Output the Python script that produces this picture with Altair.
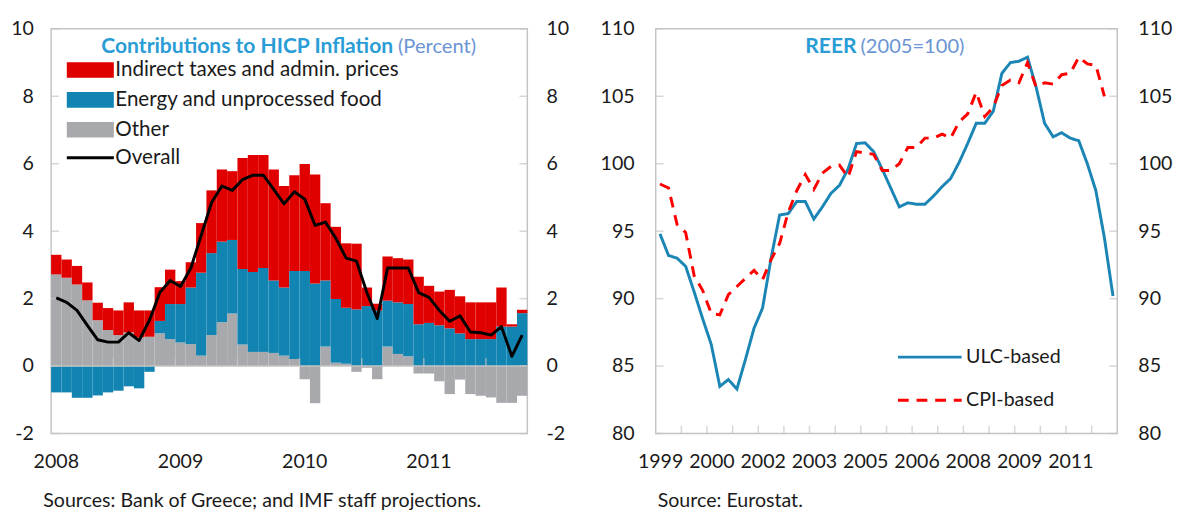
import altair as alt
import pandas as pd

FONT = "Lato"
TXT = "#1a1a1a"
RED = "#e10000"
BLUE = "#1284b1"
GRAY = "#a7a9ac"
FRAME = "#c4c4c4"
TITLE_BLUE = "#2a9dd6"
TITLE_LIGHT = "#6a94d4"
ULC_BLUE = "#1b86b5"
CPI_RED = "#ff0000"
HYPHEN_LABEL = "datum.value < 0 ? '-' + format(abs(datum.value), 'd') : format(datum.value, 'd')"

# ---------------- Left panel: contributions to HICP inflation (monthly, Jan 2008 - Oct 2011)
months = pd.period_range("2008-01", periods=46, freq="M").astype(str).tolist()
other = [2.72, 2.62, 2.42, 1.95, 1.36, 1.07, 0.92, 1.00, 0.85, 0.87,
         0.97, 0.80, 0.70, 0.65, 0.31, 0.92, 1.30, 1.56, 0.64, 0.42,
         0.42, 0.39, 0.31, 0.21, -0.39, -1.10, 0.58, 0.10, 0.07, -0.17,
         -0.05, -0.39, 0.58, 0.36, 0.29, -0.22, -0.22, -0.45, -0.83, -0.40,
         -0.83, -0.88, -0.93, -1.09, -1.09, -0.88]
energy = [-0.78, -0.78, -0.94, -0.94, -0.87, -0.78, -0.73, -0.60, -0.66, -0.17,
          0.37, 1.04, 1.14, 1.68, 2.46, 2.43, 2.39, 2.18, 2.24, 2.37,
          2.49, 2.15, 2.02, 2.61, 2.82, 2.45, 1.96, 1.89, 1.66, 1.68,
          1.78, 1.65, 1.36, 1.53, 1.55, 1.24, 1.28, 1.21, 1.12, 0.97,
          0.80, 0.80, 0.80, 1.17, 1.17, 1.57]
indirect = [0.58, 0.54, 0.55, 0.53, 0.52, 0.65, 0.73, 0.89, 0.80, 0.78,
            1.00, 1.02, 0.68, 0.75, 1.47, 1.86, 2.14, 2.04, 3.29, 3.47,
            3.35, 3.29, 3.01, 2.84, 3.17, 3.23, 2.29, 2.14, 1.91, 1.95,
            0.55, 0.20, 1.31, 1.31, 1.32, 1.41, 1.10, 1.00, 1.14, 1.10,
            1.09, 1.09, 1.09, 1.16, 0.07, 0.10]
overall = [2.02, 1.89, 1.65, 1.21, 0.78, 0.71, 0.71, 0.99, 0.76, 1.36,
           2.18, 2.54, 2.36, 2.91, 3.88, 4.85, 5.34, 5.21, 5.53, 5.66,
           5.66, 5.24, 4.81, 5.17, 4.95, 4.17, 4.27, 3.79, 3.20, 3.11,
           2.18, 1.41, 2.91, 2.91, 2.91, 2.18, 2.04, 1.65, 1.33, 1.49,
           1.01, 0.99, 0.92, 1.17, 0.29, 0.92]

LBL_IND = "Indirect taxes and admin. prices"
LBL_EN = "Energy and unprocessed food"
LBL_OTH = "Other"
LBL_ALL = "Overall"
left_year_labels = ["2008", "2009", "2010", "2011"]
left_y_ticks = [-2, 0, 2, 4, 6, 8, 10]
half_year_bounds = [6, 12, 18, 24, 30, 36, 42]

# ---------------- Right panel: REER (quarterly, 1999Q1 onward)
quarters = pd.period_range("1999Q1", periods=54, freq="Q")
ulc = [94.8, 93.2, 93.0, 92.4, 90.5, 88.5, 86.6, 83.5, 84.0, 83.3,
       85.5, 87.8, 89.3, 93.0, 96.2, 96.3, 97.2, 97.2, 95.9, 96.8,
       97.8, 98.4, 99.6, 101.5, 101.55, 100.9, 99.6, 98.2, 96.8, 97.1,
       97.0, 97.0, 97.6, 98.3, 98.9, 100.1, 101.5, 103.0, 103.0, 103.9,
       106.7, 107.5, 107.6, 107.9, 105.7, 103.0, 102.0, 102.3, 101.9, 101.7,
       100.0, 98.0, 94.5, 90.2]
cpi = [98.5, 98.2, 95.5, 94.9, 91.7, 90.6, 88.9, 88.8, 90.3, 90.9,
       91.5, 92.1, 91.4, 92.9, 94.1, 96.4, 98.0, 99.2, 98.1, 99.3,
       99.8, 99.9, 99.0, 100.9, 100.8, 100.7, 99.5, 99.5, 100.0, 101.2,
       101.2, 101.9, 101.9, 102.2, 101.9, 103.1, 103.7, 105.3, 103.5, 104.2,
       105.8, 106.2, 106.0, 107.5, 105.7, 106.0, 105.9, 106.6, 106.7, 107.9,
       107.4, 107.3, 105.0]
right_year_labels = ["1999", "2000", "2002", "2003", "2005", "2006", "2008", "2009", "2011"]
right_label_pos = [1999, 2000.5, 2002, 2003.5, 2005, 2006.5, 2008, 2009.5, 2011]
right_tick_years = [1999.75, 2000.5, 2001.25, 2002, 2002.75, 2003.5, 2004.25, 2005,
                    2005.75, 2006.5, 2007.25, 2008, 2008.75, 2009.5, 2010.25, 2011, 2011.75]
right_y_ticks = [80, 85, 90, 95, 100, 105, 110]

# ---------------- tables
bar_rows = []
for i, mth in enumerate(months):
    for name, vals, o in [(LBL_OTH, other, 0), (LBL_EN, energy, 1), (LBL_IND, indirect, 2)]:
        bar_rows.append({"month": mth, "m": i, "m2": i + 1, "series": name, "v": vals[i], "o": o})
df_bars = pd.DataFrame(bar_rows)
df_over = pd.DataFrame({"month": months, "mc": [i + 0.5 for i in range(len(months))],
                        "v": overall, "series": LBL_ALL})
df_left_years = pd.DataFrame({"lab": left_year_labels,
                              "pos": [(int(y) - 2008) * 12 + 0.5 for y in left_year_labels]})

def qx(p):
    return p.year + (p.quarter - 1) / 4 + 0.125

df_reer = pd.concat([
    pd.DataFrame({"x": [qx(p) for p in quarters[:len(ulc)]], "v": ulc, "series": "ULC-based"}),
    pd.DataFrame({"x": [qx(p) for p in quarters[:len(cpi)]], "v": cpi, "series": "CPI-based"}),
])
df_right_years = pd.DataFrame({"lab": right_year_labels, "pos": right_label_pos})

W_L, W_R, H = 486, 471, 413
LAB_Y = H + 29

# ---------------- left panel
xs_l = alt.Scale(domain=[0, 46], nice=False, zero=False)
ys_l = alt.Scale(domain=[-2, 10], nice=False, zero=False)

bars = alt.Chart(df_bars).transform_stack(
    stack="v", groupby=["m"], as_=["y0", "y1"],
    sort=[alt.SortField("o", order="ascending")], offset="zero"
).mark_bar(strokeWidth=0).encode(
    x=alt.X("m:Q", scale=xs_l, axis=None),
    x2="m2:Q",
    y=alt.Y("y0:Q", scale=ys_l,
            axis=alt.Axis(values=left_y_ticks, labelExpr=HYPHEN_LABEL, ticks=False,
                          domain=False, grid=False, labelPadding=18, title=None)),
    y2="y1:Q",
    color=alt.Color("series:N",
                    scale=alt.Scale(domain=[LBL_IND, LBL_EN, LBL_OTH], range=[RED, BLUE, GRAY]),
                    legend=alt.Legend(orient="none", legendX=29.5, legendY=31.5, title=None,
                                      symbolType="M-3,-1H3V1H-3Z", symbolSize=256,
                                      symbolStrokeWidth=0, symbolOpacity=1,
                                      labelFont=FONT, labelFontSize=21, labelColor=TXT,
                                      labelOffset=15, rowPadding=8.5, padding=0,
                                      labelLimit=400)),
)

zero_rule = alt.Chart(pd.DataFrame({"v": [0]})).mark_rule(color=FRAME, strokeWidth=1.5).encode(
    y=alt.Y("v:Q", scale=ys_l, axis=None))

zero_ticks = alt.Chart(pd.DataFrame({"b": half_year_bounds})).mark_tick(
    orient="vertical", size=8, thickness=1.5, color=FRAME, yOffset=-4).encode(
    x=alt.X("b:Q", scale=xs_l, axis=None), y=alt.Y(datum=0, scale=ys_l, axis=None))

yt_left = alt.Chart(pd.DataFrame({"t": left_y_ticks})).mark_tick(
    orient="horizontal", size=8, thickness=1.5, color=FRAME, xOffset=4).encode(
    y=alt.Y("t:Q", scale=ys_l, axis=None), x=alt.X(datum=0, scale=xs_l, axis=None))

yt_right = alt.Chart(pd.DataFrame({"t": left_y_ticks})).mark_tick(
    orient="horizontal", size=8, thickness=1.5, color=FRAME, xOffset=-4).encode(
    y=alt.Y("t:Q", scale=ys_l,
            axis=alt.Axis(orient="right", values=left_y_ticks, labelExpr=HYPHEN_LABEL,
                          ticks=False, domain=False, grid=False, labelPadding=19, title=None)),
    x=alt.X(datum=46, scale=xs_l, axis=None))

line_over = alt.Chart(df_over).mark_line(strokeWidth=3, strokeJoin="round").encode(
    x=alt.X("mc:Q", scale=xs_l, axis=None),
    y=alt.Y("v:Q", scale=ys_l, axis=None),
    stroke=alt.Stroke("series:N", scale=alt.Scale(domain=[LBL_ALL], range=["#000000"]),
                      legend=alt.Legend(orient="none", legendX=29.5, legendY=121, title=None,
                                        symbolType="M-3,0H3", symbolSize=256,
                                        symbolStrokeWidth=3, labelFont=FONT, labelFontSize=21,
                                        labelColor=TXT, labelOffset=15, padding=0)),
)

years_left = alt.Chart(df_left_years).mark_text(
    align="center", baseline="middle", font=FONT, fontSize=20, color=TXT).encode(
    x=alt.X("pos:Q", scale=xs_l, axis=None), y=alt.value(LAB_Y), text="lab:N")

t_left_bold = alt.Chart(pd.DataFrame({"t": ["Contributions to HICP Inflation"]})).mark_text(
    align="right", baseline="middle", font=FONT, fontSize=21.5, fontWeight="bold",
    color=TITLE_BLUE).encode(x=alt.value(349), y=alt.value(19), text="t:N")
t_left_norm = alt.Chart(pd.DataFrame({"t": ["(Percent)"]})).mark_text(
    align="left", baseline="middle", font=FONT, fontSize=20.5,
    color=TITLE_LIGHT).encode(x=alt.value(354), y=alt.value(19), text="t:N")
src_left = alt.Chart(pd.DataFrame({"t": ["Sources: Bank of Greece; and IMF staff projections."]})).mark_text(
    align="left", baseline="middle", font=FONT, fontSize=20, color=TXT).encode(
    x=alt.value(-8), y=alt.value(482), text="t:N")

left = alt.layer(bars, zero_rule, zero_ticks, yt_left, yt_right, line_over, years_left,
                 t_left_bold, t_left_norm, src_left).resolve_axis(y="independent").properties(
    width=W_L, height=H)

# ---------------- right panel
xs_r = alt.Scale(domain=[1999, 2012.5], nice=False, zero=False)
ys_r = alt.Scale(domain=[80, 110], nice=False, zero=False)
reer_legend = alt.Legend(orient="none", legendX=269.7, legendY=325, title=None,
                         symbolType="M-4,0H4", symbolSize=264, symbolStrokeWidth=3,
                         labelFont=FONT, labelFontSize=20, labelColor=TXT,
                         labelOffset=27, rowPadding=24, padding=0)

lines_r = alt.Chart(df_reer).mark_line(strokeWidth=3).encode(
    x=alt.X("x:Q", scale=xs_r, axis=None),
    y=alt.Y("v:Q", scale=ys_r,
            axis=alt.Axis(values=right_y_ticks, ticks=False, domain=False, grid=False,
                          labelPadding=22, title=None)),
    stroke=alt.Stroke("series:N", scale=alt.Scale(domain=["ULC-based", "CPI-based"],
                                                  range=[ULC_BLUE, CPI_RED]), legend=reer_legend),
    strokeDash=alt.StrokeDash("series:N", scale=alt.Scale(domain=["ULC-based", "CPI-based"],
                                                          range=[[1, 0], [11, 8]]), legend=reer_legend),
)

xt_r = alt.Chart(pd.DataFrame({"b": right_tick_years})).mark_tick(
    orient="vertical", size=8, thickness=1.5, color=FRAME, yOffset=-4).encode(
    x=alt.X("b:Q", scale=xs_r, axis=None), y=alt.Y(datum=80, scale=ys_r, axis=None))

yt_r_left = alt.Chart(pd.DataFrame({"t": right_y_ticks})).mark_tick(
    orient="horizontal", size=8, thickness=1.5, color=FRAME, xOffset=4).encode(
    y=alt.Y("t:Q", scale=ys_r, axis=None), x=alt.X(datum=1999, scale=xs_r, axis=None))

yt_r_right = alt.Chart(pd.DataFrame({"t": right_y_ticks})).mark_tick(
    orient="horizontal", size=8, thickness=1.5, color=FRAME, xOffset=-4).encode(
    y=alt.Y("t:Q", scale=ys_r,
            axis=alt.Axis(orient="right", values=right_y_ticks, ticks=False, domain=False,
                          grid=False, labelPadding=21, title=None)),
    x=alt.X(datum=2012.5, scale=xs_r, axis=None))

years_right = alt.Chart(df_right_years).mark_text(
    align="center", baseline="middle", font=FONT, fontSize=20, color=TXT, dx=5).encode(
    x=alt.X("pos:Q", scale=xs_r, axis=None), y=alt.value(LAB_Y), text="lab:N")

t_right_bold = alt.Chart(pd.DataFrame({"t": ["REER"]})).mark_text(
    align="right", baseline="middle", font=FONT, fontSize=21.5, fontWeight="bold",
    color=TITLE_BLUE).encode(x=alt.value(205), y=alt.value(19), text="t:N")
t_right_norm = alt.Chart(pd.DataFrame({"t": ["(2005=100)"]})).mark_text(
    align="left", baseline="middle", font=FONT, fontSize=20.5,
    color=TITLE_LIGHT).encode(x=alt.value(209), y=alt.value(19), text="t:N")
src_right = alt.Chart(pd.DataFrame({"t": ["Source: Eurostat."]})).mark_text(
    align="left", baseline="middle", font=FONT, fontSize=20, color=TXT).encode(
    x=alt.value(2), y=alt.value(482), text="t:N")

right = alt.layer(xt_r, yt_r_left, yt_r_right, lines_r, years_right, t_right_bold, t_right_norm,
                  src_right).resolve_axis(y="independent").properties(width=W_R, height=H)

chart = alt.hconcat(left, right, spacing=30, background="white",
                    padding={"left": 2, "top": 5, "right": 5, "bottom": 5}).resolve_scale(
    color="independent", stroke="independent", strokeDash="independent"
).configure_view(stroke=FRAME, strokeWidth=1.5).configure_axis(
    labelFont=FONT, labelFontSize=20, labelColor=TXT
)

chart.save("out.html", embed_options={"renderer": "svg", "actions": False})
